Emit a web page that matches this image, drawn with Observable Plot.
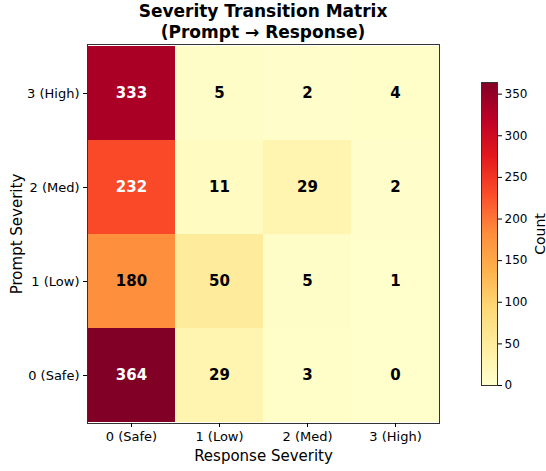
<!DOCTYPE html>
<html>
<head>
<meta charset="utf-8">
<script src="https://cdn.jsdelivr.net/npm/d3@7"></script>
<script src="https://cdn.jsdelivr.net/npm/@observablehq/plot@0.6"></script>
<style>
  html, body { margin: 0; padding: 0; background: #fff; }
  #wrap { position: relative; width: 546px; height: 471px; font-family: "DejaVu Sans", sans-serif; }
  #title { position: absolute; left: 0; width: 526px; top: 1px; text-align: center; font-weight: bold; font-size: 17px; line-height: 21px; color: #000; }
  #main { position: absolute; left: 0; top: 0; }
  #cbar { position: absolute; left: 470px; top: 70px; }
</style>
</head>
<body>
<div id="wrap">
  <div id="main"></div>
  <div id="cbar"></div>
  <div id="title">Severity Transition Matrix<br>(Prompt → Response)</div>
</div>
<script>
const responseLabels = ["0 (Safe)", "1 (Low)", "2 (Med)", "3 (High)"];
const promptLabels = ["3 (High)", "2 (Med)", "1 (Low)", "0 (Safe)"];
const promptHigh = [333, 5, 2, 4];
const promptMed = [232, 11, 29, 2];
const promptLow = [180, 50, 5, 1];
const promptSafe = [364, 29, 3, 0];
const colorTicks = [0, 50, 100, 150, 200, 250, 300, 350];
const ylOrRd = ["#ffffcc", "#ffeda0", "#fed976", "#feb24c", "#fd8d3c", "#fc4e2a", "#e31a1c", "#bd0026", "#800026"];

const rows = [promptHigh, promptMed, promptLow, promptSafe];
const cells = [];
rows.forEach((vals, i) => vals.forEach((v, j) => cells.push({prompt: promptLabels[i], response: responseLabels[j], count: v})));
const vmax = d3.max(cells, d => d.count);
const colorDomain = ylOrRd.map((c, i) => vmax * i / (ylOrRd.length - 1));
const colorOpts = {type: "linear", domain: colorDomain, range: ylOrRd, interpolate: "rgb"};

const main = Plot.plot({
  width: 546,
  height: 471,
  marginLeft: 87,
  marginRight: 107,
  marginTop: 44,
  marginBottom: 48,
  style: {fontFamily: "DejaVu Sans, sans-serif", fontSize: "13px", color: "#000", background: "#fff"},
  x: {domain: responseLabels, padding: 0, label: "Response Severity"},
  y: {domain: promptLabels, padding: 0, label: "Prompt Severity"},
  color: colorOpts,
  marks: [
    Plot.cell(cells, {x: "response", y: "prompt", fill: "count", inset: 0, shapeRendering: "crispEdges"}),
    Plot.text(cells, {x: "response", y: "prompt", text: d => String(d.count), fill: d => d.count > vmax / 2 ? "white" : "black", fontWeight: "bold", fontSize: 15}),
    Plot.frame({stroke: "#333", strokeWidth: 1}),
    Plot.axisX({anchor: "bottom", tickSize: 4, tickPadding: 4, fontSize: 13, label: "Response Severity", labelAnchor: "center", labelArrow: "none", labelOffset: 37}),
    Plot.axisY({anchor: "left", tickSize: 4, tickPadding: 4, fontSize: 13, label: "Prompt Severity", labelAnchor: "center", labelArrow: "none", labelOffset: 76})
  ]
});
main.querySelectorAll('[aria-label="x-axis label"] text, [aria-label="y-axis label"] text').forEach(t => t.setAttribute("font-size", "15px"));
document.getElementById("main").appendChild(main);

const steps = d3.range(0, Math.ceil(vmax), 1);
const cbar = Plot.plot({
  width: 76,
  height: 330,
  marginLeft: 11,
  marginRight: 49,
  marginTop: 12,
  marginBottom: 15,
  style: {fontFamily: "DejaVu Sans, sans-serif", fontSize: "12px", color: "#000", background: "transparent"},
  x: {domain: [0, 1], axis: null},
  y: {domain: [0, vmax], label: "Count"},
  color: colorOpts,
  marks: [
    Plot.rect(steps, {x1: 0, x2: 1, y1: d => d, y2: d => Math.min(d + 1, vmax), fill: d => d, shapeRendering: "crispEdges"}),
    Plot.frame({stroke: "#333", strokeWidth: 1}),
    Plot.axisY({anchor: "right", ticks: colorTicks, tickSize: 4, tickPadding: 3, fontSize: 12, label: "Count", labelAnchor: "center", labelArrow: "none", labelOffset: 47})
  ]
});
cbar.querySelectorAll('[aria-label="y-axis label"] text').forEach(t => t.setAttribute("font-size", "14px"));
document.getElementById("cbar").appendChild(cbar);
</script>
</body>
</html>
